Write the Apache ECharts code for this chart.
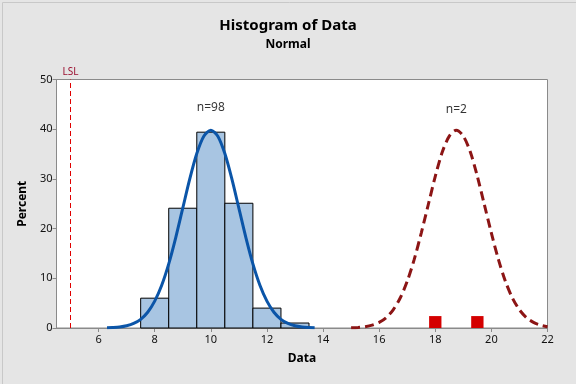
<!DOCTYPE html>
<html>
<head>
<meta charset="utf-8">
<script src="https://cdn.jsdelivr.net/npm/echarts@6/dist/echarts.min.js"></script>
<style>html,body{margin:0;padding:0;background:#E5E5E5;}#c{width:576px;height:384px;}</style>
</head>
<body>
<div id="c"></div>
<script>
// Histogram bins (bin centers, width 1) and percents
var binCenters = [8, 9, 10, 11, 12, 13];
var binPercents = [6.0, 24.1, 39.4, 25.1, 4.0, 1.0];
// Out-of-group points (red)
var redCenters = [18, 19.5];
var redPercents = [2.4, 2.4];
// Fitted normal curve (group n=98)
var blueX = [6.3, 6.5, 6.75, 7, 7.25, 7.5, 7.75, 8, 8.25, 8.5, 8.75, 9, 9.25, 9.5, 9.75, 10, 10.25, 10.5, 10.75, 11, 11.25, 11.5, 11.75, 12, 12.25, 12.5, 12.75, 13, 13.25, 13.5, 13.7];
var blueY = [0.04, 0.09, 0.2, 0.44, 0.91, 1.75, 3.17, 5.4, 8.6, 12.9, 18.2, 24.1, 30.0, 35.1, 38.6, 39.8, 38.6, 35.1, 30.0, 24.1, 18.2, 12.9, 8.6, 5.4, 3.17, 1.75, 0.91, 0.44, 0.2, 0.09, 0.04];
// Fitted normal curve (group n=2)
var redX = [15, 15.25, 15.5, 15.75, 16, 16.25, 16.5, 16.75, 17, 17.25, 17.5, 17.75, 18, 18.25, 18.5, 18.75, 19, 19.25, 19.5, 19.75, 20, 20.25, 20.5, 20.75, 21, 21.25, 21.5, 21.75, 22];
var redY = [0.05, 0.12, 0.27, 0.57, 1.13, 2.09, 3.66, 6.04, 9.4, 13.8, 19.1, 24.8, 30.5, 35.4, 38.6, 39.8, 38.6, 35.4, 30.5, 24.8, 19.1, 13.8, 9.4, 6.04, 3.66, 2.09, 1.13, 0.57, 0.27];
var xTicks = [6, 8, 10, 12, 14, 16, 18, 20, 22];
var lsl = 5;
var labels = [{x: 10, y: 44.3, text: 'n=98'}, {x: 18.75, y: 43.9, text: 'n=2'}];

var FONT = 'Noto Sans';
function pairs(xs, ys) { return xs.map(function (x, i) { return [x, ys[i]]; }); }

var chart = echarts.init(document.getElementById('c'), null, {renderer: 'canvas'});
var option = {
  backgroundColor: '#E5E5E5',
  animation: false,
  textStyle: {fontFamily: FONT},
  title: {
    text: 'Histogram of Data',
    subtext: 'Normal',
    left: 'center',
    top: 13,
    itemGap: 6,
    textStyle: {fontFamily: FONT, fontSize: 15, fontWeight: 'bold', color: '#000'},
    subtextStyle: {fontFamily: FONT, fontSize: 12, fontWeight: 'bold', color: '#000'}
  },
  graphic: [{
    type: 'rect', left: 0, top: 0, silent: true,
    shape: {x: 0.5, y: 0.5, width: 575, height: 383},
    style: {fill: 'none', stroke: '#C8C8C8', lineWidth: 1}
  }],
  grid: {left: 56.5, right: 28.5, top: 79.5, bottom: 56, show: true, backgroundColor: '#fff', borderColor: '#8A8A8A', borderWidth: 1},
  xAxis: {
    type: 'value', min: 4.5, max: 22,
    name: 'Data', nameLocation: 'middle', nameGap: 25,
    nameTextStyle: {fontFamily: FONT, fontSize: 12, fontWeight: 'bold', color: '#000'},
    axisLine: {show: true, lineStyle: {color: '#8A8A8A'}},
    axisTick: {show: true, length: 4, lineStyle: {color: '#8A8A8A'}, customValues: xTicks},
    axisLabel: {fontFamily: FONT, fontSize: 11, color: '#111', margin: 6, customValues: xTicks},
    splitLine: {show: false}
  },
  yAxis: {
    type: 'value', min: 0, max: 50, interval: 10,
    name: 'Percent', nameLocation: 'middle', nameGap: 26, nameRotate: 90,
    nameTextStyle: {fontFamily: FONT, fontSize: 12, fontWeight: 'bold', color: '#000'},
    axisLine: {show: true, lineStyle: {color: '#8A8A8A'}},
    axisTick: {show: true, length: 4, lineStyle: {color: '#8A8A8A'}},
    axisLabel: {fontFamily: FONT, fontSize: 11, color: '#111', margin: 4},
    splitLine: {show: false}
  },
  series: [
    {
      type: 'custom',
      data: binCenters.map(function (c, i) { return [c, binPercents[i]]; }),
      renderItem: function (params, api) {
        var c = api.value(0), v = api.value(1);
        var p0 = api.coord([c - 0.5, v]);
        var p1 = api.coord([c + 0.5, 0]);
        return {type: 'rect', shape: {x: p0[0], y: p0[1], width: p1[0] - p0[0], height: p1[1] - p0[1]},
          style: {fill: '#A8C5E2', stroke: '#000', lineWidth: 1}};
      },
      z: 2
    },
    {
      type: 'custom',
      data: redCenters.map(function (c, i) { return [c, redPercents[i]]; }),
      renderItem: function (params, api) {
        var c = api.value(0), v = api.value(1);
        var p0 = api.coord([c - 0.22, v]);
        var p1 = api.coord([c + 0.22, 0]);
        return {type: 'rect', shape: {x: p0[0], y: p0[1], width: p1[0] - p0[0], height: p1[1] - p0[1]},
          style: {fill: '#D40000'}};
      },
      z: 2
    },
    {
      type: 'line', data: pairs(blueX, blueY), smooth: 0.3, showSymbol: false, symbol: 'none',
      lineStyle: {color: '#0B55A8', width: 3}, z: 3
    },
    {
      type: 'line', data: pairs(redX, redY), smooth: 0.3, showSymbol: false, symbol: 'none',
      lineStyle: {color: '#8C1515', width: 3, type: [9, 5]}, z: 3
    },
    {
      type: 'scatter', symbolSize: 0, data: labels.map(function (l) { return {value: [l.x, l.y], name: l.text}; }),
      label: {show: true, position: 'inside', formatter: '{b}', fontFamily: FONT, fontSize: 12, color: '#000'},
      markLine: {
        silent: true, symbol: 'none',
        lineStyle: {color: '#E00000', type: [5, 3], width: 1},
        label: {show: true, position: 'end', formatter: 'LSL', color: '#9B1030', fontFamily: FONT, fontSize: 10, distance: 2},
        data: [{xAxis: lsl}]
      },
      z: 4
    }
  ]
};
chart.setOption(option);
</script>
</body>
</html>
